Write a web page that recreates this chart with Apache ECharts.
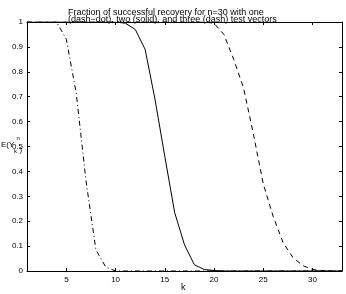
<!DOCTYPE html>
<html><head><meta charset="utf-8">
<script src="https://cdn.jsdelivr.net/npm/echarts@6/dist/echarts.min.js"></script>
<style>html,body{margin:0;padding:0;background:#fff}#c{width:346px;height:294px}</style>
</head><body><div id="c"></div>
<script>
const kValues = [1,2,3,4,5,6,7,8,9,10,11,12,13,14,15,16,17,18,19,20,21,22,23,24,25,26,27,28,29,30,31,32,33];
const oneVector = [1,1,1,1,0.93,0.715,0.36,0.085,0.016,0,0,0,0,0,0,0,0,0,0,0,0,0,0,0,0,0,0,0,0,0,0,0,0];
const twoVectors = [1,1,1,1,1,1,1,1,1,1,0.995,0.97,0.89,0.69,0.46,0.235,0.105,0.025,0.006,0.002,0,0,0,0,0,0,0,0,0,0,0,0,0];
const threeVectors = [1,1,1,1,1,1,1,1,1,1,1,1,1,1,1,1,1,1,1,0.995,0.95,0.85,0.735,0.55,0.35,0.22,0.115,0.055,0.022,0.006,0.002,0,0];
const xTicks = [5,10,15,20,25,30];
const titleLines = ['Fraction of successful recovery for n=30 with one','(dash\u2212dot), two (solid), and three (dash) test vectors'];

const font = 'Liberation Sans, Arial, Helvetica, sans-serif';
const chart = echarts.init(document.getElementById('c'), null, {renderer:'canvas'});
const pair = arr => kValues.map((k,i)=>[k,arr[i]]);
const line = {show:true,onZero:false,lineStyle:{color:'#000',width:1}};
const tick = {show:true,inside:true,length:3,lineStyle:{color:'#000',width:1}};
chart.setOption({
  animation:false,
  backgroundColor:'#fff',
  grid:{left:27,right:4,top:22,bottom:23,containLabel:false,outerBoundsMode:'none'},
  xAxis:[
    {type:'value',min:1,max:33,position:'bottom',
      axisLine:line,
      axisTick:Object.assign({customValues:xTicks},tick),
      axisLabel:{customValues:xTicks,color:'#000',fontSize:8,fontFamily:font,margin:5},
      splitLine:{show:false}},
    {type:'value',min:1,max:33,position:'top',
      axisLine:line,
      axisTick:Object.assign({customValues:xTicks},tick),
      axisLabel:{show:false},splitLine:{show:false}}
  ],
  yAxis:[
    {type:'value',min:0,max:1,interval:0.1,position:'left',
      axisLine:line,axisTick:tick,
      axisLabel:{color:'#000',fontSize:8,fontFamily:font,margin:4,
        formatter:v=>{const r=Math.round(v*10)/10; return String(r);}},
      splitLine:{show:false}},
    {type:'value',min:0,max:1,interval:0.1,position:'right',
      axisLine:line,axisTick:tick,
      axisLabel:{show:false},splitLine:{show:false}}
  ],
  graphic:[
    {type:'text',left:68,top:8,style:{text:titleLines[0],fontSize:9,fontFamily:font,fill:'#000'}},
    {type:'text',left:68,top:15.5,style:{text:titleLines[1],fontSize:9,fontFamily:font,fill:'#000'}},
    {type:'text',left:181,top:283,style:{text:'k',fontSize:9,fontFamily:font,fill:'#000'}},
    {type:'text',left:1,top:141,style:{text:'E(Y',fontSize:8,fontFamily:font,fill:'#000'}},
    {type:'text',left:16.5,top:135,style:{text:'n',fontSize:6,fontFamily:font,fill:'#000'}},
    {type:'text',left:14,top:148,style:{text:'k',fontSize:6,fontFamily:font,fill:'#000'}},
    {type:'text',left:19.5,top:146,style:{text:')',fontSize:8,fontFamily:font,fill:'#000'}}
  ],
  series:[
    {type:'line',data:pair(oneVector),showSymbol:false,xAxisIndex:0,yAxisIndex:0,
      lineStyle:{color:'#000',width:1,type:[5,3,1,3]}},
    {type:'line',data:pair(twoVectors),showSymbol:false,xAxisIndex:0,yAxisIndex:0,
      lineStyle:{color:'#000',width:1,type:'solid'}},
    {type:'line',data:pair(threeVectors),showSymbol:false,xAxisIndex:0,yAxisIndex:0,
      lineStyle:{color:'#000',width:1,type:[5,4]}}
  ]
});
</script></body></html>
